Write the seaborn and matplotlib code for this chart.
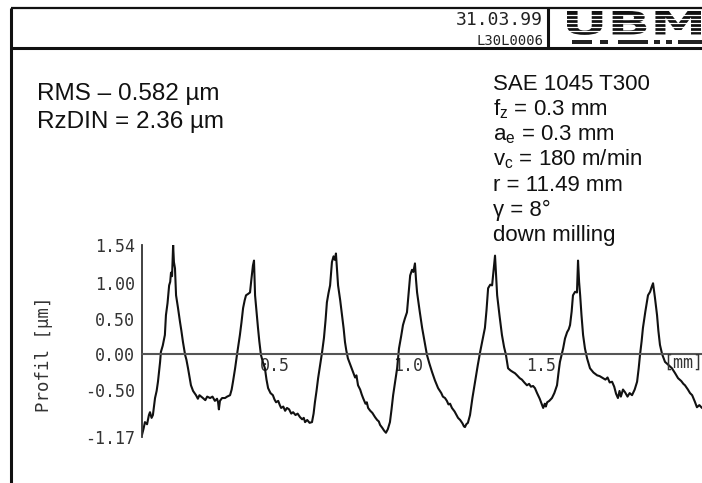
import numpy as np
import pandas as pd
import matplotlib
matplotlib.use("Agg")
import matplotlib.pyplot as plt
import seaborn as sns
from matplotlib.textpath import TextPath
from matplotlib.patches import PathPatch, Rectangle
from matplotlib.font_manager import FontProperties
from matplotlib.transforms import Affine2D

# ---- measured surface profile (x in mm, height in µm) ----
profile_x = [
    0.000, 0.006, 0.011, 0.019, 0.026, 0.030, 0.036, 0.041, 0.049, 0.055,
    0.060, 0.068, 0.071, 0.078, 0.086, 0.090, 0.096, 0.102, 0.106, 0.109,
    0.113, 0.117, 0.120, 0.124, 0.128, 0.135, 0.143, 0.148, 0.154, 0.162,
    0.167, 0.173, 0.178, 0.184, 0.192, 0.203, 0.210, 0.216, 0.229, 0.238,
    0.245, 0.256, 0.265, 0.274, 0.282, 0.286, 0.289, 0.293, 0.301, 0.312,
    0.320, 0.331, 0.337, 0.342, 0.350, 0.357, 0.368, 0.374, 0.380, 0.386,
    0.391, 0.399, 0.406, 0.411, 0.417, 0.421, 0.425, 0.430, 0.436, 0.441,
    0.447, 0.455, 0.462, 0.468, 0.474, 0.483, 0.492, 0.498, 0.504, 0.512,
    0.518, 0.523, 0.531, 0.538, 0.545, 0.553, 0.561, 0.568, 0.577, 0.585,
    0.594, 0.602, 0.608, 0.613, 0.621, 0.630, 0.639, 0.645, 0.650, 0.656,
    0.662, 0.670, 0.677, 0.684, 0.690, 0.695, 0.701, 0.707, 0.714, 0.720,
    0.725, 0.729, 0.733, 0.737, 0.745, 0.752, 0.758, 0.763, 0.768, 0.774,
    0.783, 0.793, 0.801, 0.806, 0.812, 0.820, 0.826, 0.831, 0.840, 0.845,
    0.850, 0.858, 0.866, 0.876, 0.884, 0.890, 0.895, 0.903, 0.910, 0.917,
    0.924, 0.932, 0.938, 0.944, 0.951, 0.959, 0.966, 0.974, 0.981, 0.988,
    0.996, 1.002, 1.008, 1.015, 1.020, 1.026, 1.030, 1.034, 1.044, 1.053,
    1.062, 1.071, 1.080, 1.090, 1.101, 1.113, 1.125, 1.131, 1.139, 1.146,
    1.152, 1.158, 1.165, 1.175, 1.182, 1.188, 1.196, 1.205, 1.210, 1.214,
    1.219, 1.225, 1.233, 1.242, 1.252, 1.262, 1.271, 1.280, 1.289, 1.295,
    1.301, 1.309, 1.316, 1.322, 1.327, 1.331, 1.335, 1.344, 1.353, 1.361,
    1.368, 1.376, 1.385, 1.393, 1.402, 1.410, 1.420, 1.428, 1.437, 1.447,
    1.455, 1.462, 1.470, 1.477, 1.485, 1.495, 1.502, 1.508, 1.514, 1.518,
    1.523, 1.531, 1.541, 1.550, 1.560, 1.566, 1.571, 1.583, 1.590, 1.598,
    1.604, 1.609, 1.615, 1.620, 1.628, 1.635, 1.639, 1.643, 1.647, 1.652,
    1.658, 1.665, 1.673, 1.684, 1.697, 1.711, 1.720, 1.733, 1.742, 1.750,
    1.758, 1.767, 1.775, 1.782, 1.789, 1.795, 1.800, 1.808, 1.816, 1.825,
    1.833, 1.842, 1.852, 1.861, 1.867, 1.872, 1.878, 1.883, 1.892, 1.902,
    1.910, 1.916, 1.921, 1.928, 1.936, 1.941, 1.947, 1.955, 1.966, 1.978,
    1.992, 2.004, 2.015, 2.027, 2.035, 2.041, 2.052, 2.060, 2.068, 2.078,
    2.086, 2.095, 2.105,
]
profile_y = [
    -1.14, -1.05, -0.96, -0.99, -0.86, -0.82, -0.90, -0.86, -0.62, -0.52,
    -0.39, -0.11, 0.03, 0.12, 0.27, 0.55, 0.72, 0.97, 1.02, 1.15,
    1.10, 1.54, 1.30, 1.21, 0.83, 0.66, 0.45, 0.33, 0.17, -0.01,
    -0.08, -0.20, -0.31, -0.44, -0.52, -0.58, -0.63, -0.58, -0.62, -0.65,
    -0.60, -0.62, -0.60, -0.66, -0.63, -0.68, -0.78, -0.66, -0.62, -0.62,
    -0.60, -0.58, -0.50, -0.39, -0.20, -0.01, 0.27, 0.45, 0.65, 0.76,
    0.83, 0.85, 0.87, 1.05, 1.25, 1.32, 0.83, 0.62, 0.37, 0.18,
    -0.01, -0.12, -0.20, -0.36, -0.48, -0.55, -0.58, -0.64, -0.68, -0.66,
    -0.72, -0.76, -0.74, -0.80, -0.76, -0.78, -0.84, -0.82, -0.86, -0.84,
    -0.89, -0.92, -0.90, -0.96, -0.93, -0.97, -0.96, -0.84, -0.68, -0.52,
    -0.34, -0.14, 0.03, 0.23, 0.48, 0.73, 0.86, 0.97, 1.30, 1.38,
    1.33, 1.42, 1.20, 0.97, 0.76, 0.55, 0.36, 0.17, 0.05, -0.06,
    -0.15, -0.25, -0.33, -0.30, -0.44, -0.50, -0.57, -0.62, -0.70, -0.68,
    -0.76, -0.80, -0.83, -0.89, -0.93, -0.95, -1.00, -1.04, -1.08, -1.11,
    -1.06, -0.96, -0.78, -0.58, -0.40, -0.20, 0.08, 0.25, 0.41, 0.50,
    0.59, 0.85, 1.11, 1.19, 1.16, 1.28, 1.05, 0.87, 0.60, 0.37,
    0.18, -0.01, -0.13, -0.25, -0.37, -0.48, -0.55, -0.60, -0.62, -0.66,
    -0.71, -0.70, -0.76, -0.81, -0.86, -0.90, -0.93, -0.98, -1.02, -1.03,
    -0.99, -0.97, -0.86, -0.62, -0.39, -0.16, 0.03, 0.20, 0.37, 0.62,
    0.93, 0.98, 0.97, 1.20, 1.39, 1.10, 0.83, 0.54, 0.27, 0.10,
    -0.01, -0.20, -0.23, -0.25, -0.27, -0.30, -0.34, -0.36, -0.40, -0.44,
    -0.42, -0.46, -0.45, -0.48, -0.55, -0.63, -0.70, -0.76, -0.70, -0.74,
    -0.68, -0.66, -0.62, -0.55, -0.44, -0.25, -0.11, 0.08, 0.22, 0.31,
    0.35, 0.41, 0.60, 0.83, 0.88, 0.87, 1.32, 1.02, 0.83, 0.55,
    0.27, 0.08, -0.06, -0.20, -0.26, -0.30, -0.31, -0.34, -0.36, -0.33,
    -0.40, -0.39, -0.46, -0.56, -0.62, -0.52, -0.60, -0.50, -0.54, -0.60,
    -0.55, -0.58, -0.50, -0.39, -0.20, -0.01, 0.18, 0.37, 0.60, 0.83,
    0.88, 0.95, 1.00, 0.80, 0.55, 0.33, 0.13, 0.00, -0.11, -0.15,
    -0.20, -0.27, -0.34, -0.38, -0.42, -0.44, -0.50, -0.55, -0.58, -0.67,
    -0.75, -0.72, -0.76,
]

y_ticks = [1.54, 1.00, 0.50, 0.00, -0.50, -1.17]
y_ticklabels = ["1.54", "1.00", "0.50", "0.00", "-0.50", "-1.17"]
x_ticks = [0.5, 1.0, 1.5]
x_ticklabels = ["0.5", "1.0", "1.5"]
x_max = 2.105

roughness_lines = ["RMS \u2013 0.582 \u00b5m", "RzDIN = 2.36 \u00b5m"]
process_lines = [
    "SAE 1045 T300",
    r"f$_\mathregular{z}$ = 0.3 mm",
    r"a$_\mathregular{e}$ = 0.3 mm",
    r"v$_\mathregular{c}$ = 180 m/min",
    "r = 11.49 mm",
    "\u03b3 = 8\u00b0",
    "down milling",
]
header_date = "31.03.99"
header_id = "L30L0006"

sns.set_style("white")
plt.rcParams["font.family"] = ["Liberation Sans", "DejaVu Sans"]
plt.rcParams["mathtext.fontset"] = "custom"
plt.rcParams["mathtext.rm"] = "Liberation Sans"
plt.rcParams["mathtext.it"] = "Liberation Sans"

W, H = 702, 483
fig = plt.figure(figsize=(W / 100, H / 100), dpi=100)
fig.patch.set_facecolor("white")

# page frame, header box and logo, laid out in pixel units
deco = fig.add_axes([0, 0, 1, 1], zorder=0)
deco.set_xlim(0, W)
deco.set_ylim(H, 0)
deco.axis("off")
frame_kw = dict(color="#111111", solid_capstyle="butt")
deco.plot([11, 11], [8, H], lw=2.2, **frame_kw)
deco.plot([11, W], [8, 8], lw=1.6, **frame_kw)
deco.plot([11, W], [48, 48], lw=2.2, **frame_kw)
deco.plot([548, 548], [8, 48], lw=2.2, **frame_kw)

mono = "DejaVu Sans Mono"
deco.text(543, 20, header_date, family=mono, fontsize=13, ha="right",
          va="center", color="#222222")
deco.text(543, 41, header_id, family=mono, fontsize=10, ha="right",
          va="center", color="#222222")

# striped company logo
tp = TextPath((0, 0), "UBM", size=10,
              prop=FontProperties(family="DejaVu Sans", weight="bold"))
bb = tp.get_extents()
logo_tr = (Affine2D().translate(-bb.x0, -bb.y0)
           .scale((701 - 567) / bb.width, -(35 - 11) / bb.height)
           .translate(567, 35))
deco.add_patch(PathPatch(logo_tr.transform_path(tp), fc="#111111", ec="none"))
for yy in np.arange(14.5, 35, 4.0):
    deco.plot([560, W], [yy, yy], color="white", lw=0.9)
for x0, w in [(572, 20), (600, 8), (618, 30), (654, 6), (666, 6), (678, 24)]:
    deco.add_patch(Rectangle((x0, 39.5), w, 4, fc="#222222", ec="none"))

# roughness results and cutting conditions
for i, s in enumerate(roughness_lines):
    deco.text(37, 100 + 28 * i, s, fontsize=17.5, va="baseline", color="#111111")
for i, s in enumerate(process_lines):
    deco.text(493, 90 + 25.2 * i, s, fontsize=16, va="baseline", color="#111111")

# profile plot
ax_left, ax_right = 142, W
ax_top, ax_bottom = 245, 437
ax = fig.add_axes([ax_left / W, 1 - ax_bottom / H,
                   (ax_right - ax_left) / W, (ax_bottom - ax_top) / H], zorder=2)
ax.patch.set_alpha(0)

df = pd.DataFrame({"x": profile_x, "y": profile_y})
sns.lineplot(data=df, x="x", y="y", ax=ax, color="#111111", lw=1.5,
             estimator=None, sort=False)

ax.set_xlim(0, x_max)
ax.set_ylim(min(y_ticks), max(y_ticks))
for side in ["top", "right"]:
    ax.spines[side].set_visible(False)
ax.spines["bottom"].set_position(("data", 0))
ax.spines["bottom"].set_color("#555555")
ax.spines["bottom"].set_linewidth(1.5)
ax.spines["left"].set_color("#333333")
ax.spines["left"].set_linewidth(1.3)

ax.set_yticks(y_ticks)
ax.set_yticklabels(y_ticklabels, family=mono, fontsize=12, color="#333333")
ax.tick_params(axis="y", direction="out", length=4, width=1.2,
               color="#333333", pad=1)
ax.set_xticks(x_ticks)
ax.set_xticklabels(x_ticklabels, family=mono, fontsize=12, color="#333333")
ax.tick_params(axis="x", direction="in", length=3, width=1.2,
               color="#333333", pad=2)
ax.text(1.96, 0, "[mm]", family=mono, fontsize=12, color="#333333",
        ha="left", va="top", transform=ax.transData)

ax.set_xlabel("")
ax.set_ylabel("Profil [\u00b5m]", family=mono, fontsize=12.5, color="#333333")
ax.yaxis.set_label_coords((53 - ax_left) / (ax_right - ax_left),
                          (ax_bottom - 354) / (ax_bottom - ax_top))

fig.savefig("out.png", dpi=100, facecolor="white")
